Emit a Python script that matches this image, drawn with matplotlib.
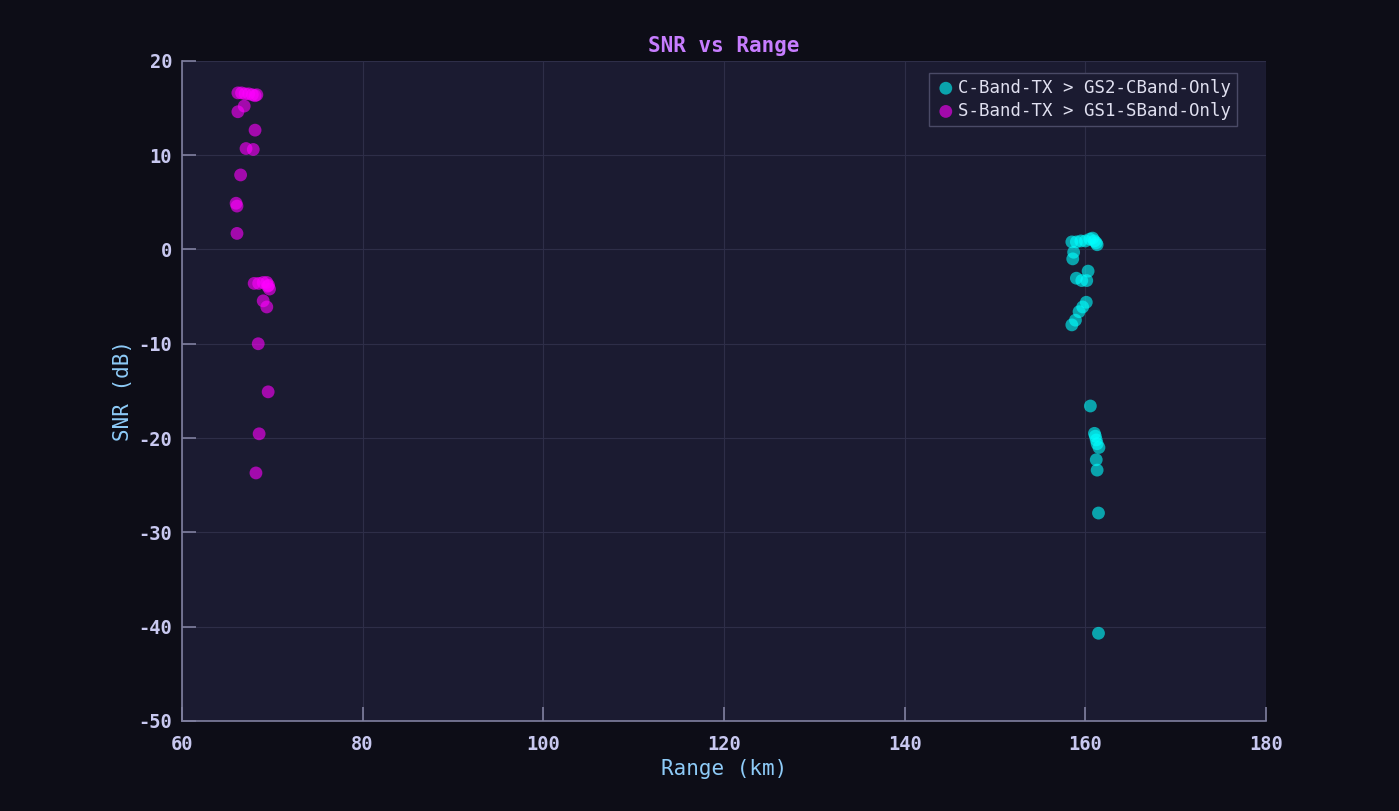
import matplotlib
matplotlib.use("Agg")
import matplotlib.pyplot as plt

# C-Band-TX > GS2-CBand-Only
c_range = [158.5, 159.0, 159.5, 160.0, 160.5, 160.8, 161.0, 161.3, 161.2,
           158.7, 158.6, 160.3, 159.0, 159.6, 160.15, 160.1, 159.7, 159.3, 158.9, 158.5,
           160.55, 161.0, 161.1, 161.2, 161.3, 161.5, 161.2, 161.3, 161.45, 161.45]
c_snr = [0.8, 0.8, 0.9, 0.9, 1.1, 1.2, 0.9, 0.5, 0.7,
         -0.3, -1.0, -2.3, -3.05, -3.3, -3.3, -5.6, -6.1, -6.6, -7.5, -8.0,
         -16.6, -19.5, -19.8, -20.2, -20.6, -21.0, -22.3, -23.4, -27.95, -40.7]

# S-Band-TX > GS1-SBand-Only
s_range = [66.2, 66.6, 67.0, 67.4, 67.8, 68.1, 68.3,
           66.9, 66.2, 68.1, 67.1, 67.9, 66.5, 66.0, 66.1, 66.1,
           68.0, 68.5, 69.0, 69.4, 69.6, 69.7, 69.5,
           69.0, 69.4, 68.45, 69.55, 68.55, 68.2]
s_snr = [16.6, 16.6, 16.5, 16.5, 16.4, 16.3, 16.4,
         15.2, 14.6, 12.65, 10.7, 10.6, 7.9, 4.9, 4.6, 1.7,
         -3.6, -3.6, -3.5, -3.5, -3.8, -4.2, -3.9,
         -5.45, -6.1, -10.0, -15.1, -19.55, -23.7]

fig_bg = "#0d0d17"
ax_bg = "#1b1b31"
tick_col = "#c8c8f0"
spine_col = "#8080a0"

plt.rcParams['font.family'] = ['DejaVu Sans Mono', 'DejaVu Sans']
plt.rcParams['axes.unicode_minus'] = False

fig = plt.figure(figsize=(13.99, 8.11), dpi=100, facecolor=fig_bg)
ax = fig.add_axes([0.130, 0.111, 0.775, 0.814], facecolor=ax_bg)

ax.scatter(c_range, c_snr, s=85, color="#00ffff", alpha=0.6, edgecolors='none',
           label="C-Band-TX > GS2-CBand-Only", zorder=3)
ax.scatter(s_range, s_snr, s=85, color="#ff00ff", alpha=0.6, edgecolors='none',
           label="S-Band-TX > GS1-SBand-Only", zorder=3)

ax.set_xlim(60, 180)
ax.set_ylim(-50, 20)
ax.set_xticks([60, 80, 100, 120, 140, 160, 180])
ax.set_yticks([-50, -40, -30, -20, -10, 0, 10, 20])

ax.grid(True, color="#2e2e48", linewidth=0.8, zorder=0)
ax.set_axisbelow(True)

for side in ['top', 'right']:
    ax.spines[side].set_visible(False)
for side in ['left', 'bottom']:
    ax.spines[side].set_color(spine_col)
    ax.spines[side].set_linewidth(1.2)

ax.tick_params(axis='both', direction='in', colors=spine_col, labelcolor=tick_col,
               labelsize=13.5, length=10, width=1.2)
ax.tick_params(axis='y', pad=7)
ax.tick_params(axis='x', pad=10)
for t in ax.get_xticklabels() + ax.get_yticklabels():
    t.set_fontweight('bold')

ax.set_title("SNR vs Range", color="#c77dff", fontsize=15, fontweight='bold', pad=6)
ax.set_xlabel("Range (km)", color="#8ecbf8", fontsize=15, labelpad=4)
ax.set_ylabel("SNR (dB)", color="#8ecbf8", fontsize=15, labelpad=4)

leg = ax.legend(loc='upper right', bbox_to_anchor=(0.9732, 0.982), borderaxespad=0,
                fontsize=12.5, facecolor=ax_bg, edgecolor="#4a4a66",
                framealpha=1.0, handletextpad=0.1, borderpad=0.35, handlelength=1.2,
                labelspacing=0.3, fancybox=False, markerscale=1.0)
for text in leg.get_texts():
    text.set_color("#e0e0f0")

fig.savefig("out.png", dpi=100, facecolor=fig_bg)
